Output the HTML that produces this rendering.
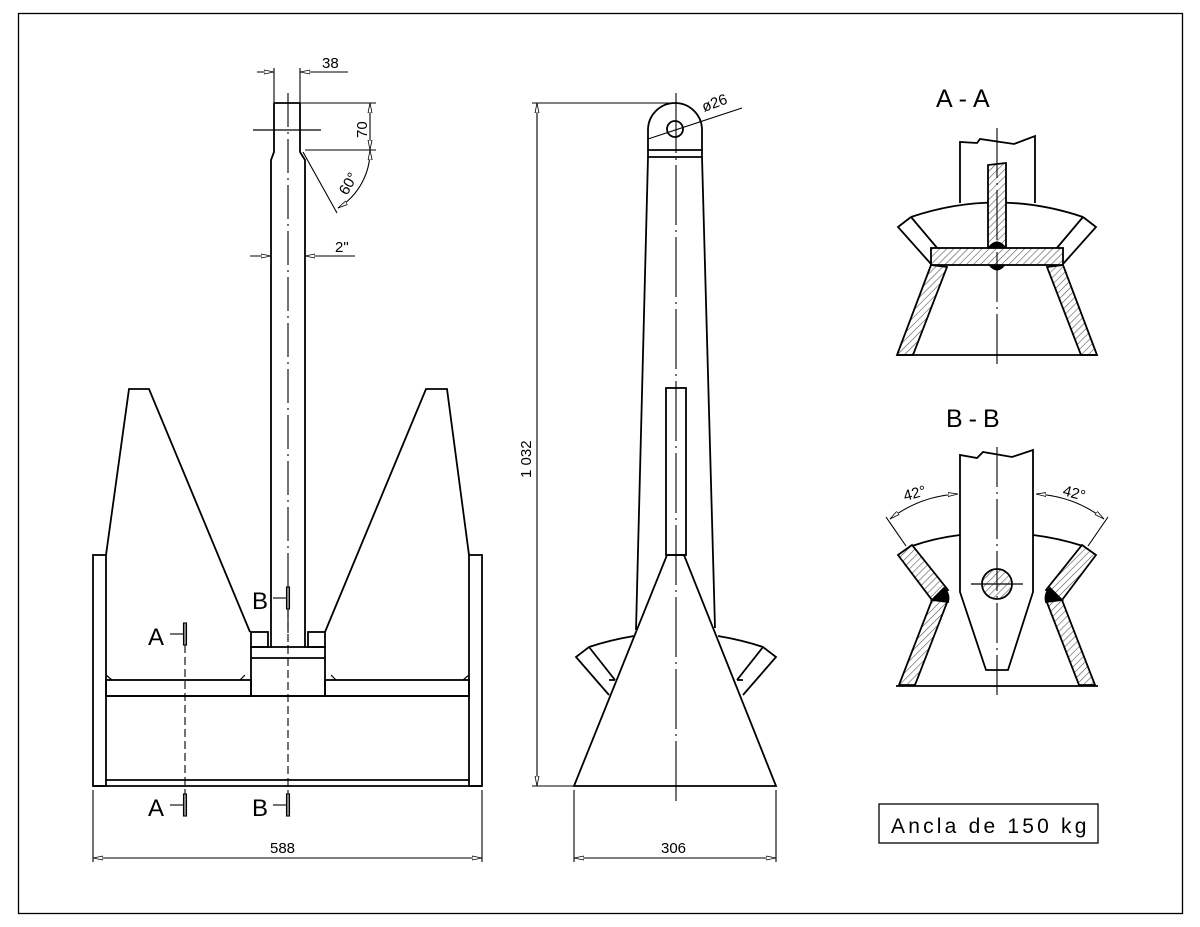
<!DOCTYPE html>
<html><head><meta charset="utf-8"><style>
html,body{margin:0;padding:0;background:#fff;}
svg{display:block;}
text{font-family:"Liberation Sans",sans-serif;fill:#000;}
</style></head><body>
<svg width="1200" height="927" viewBox="0 0 1200 927" xmlns="http://www.w3.org/2000/svg">
<defs>
<pattern id="h" patternUnits="userSpaceOnUse" width="5" height="5" patternTransform="rotate(45)">
<rect width="5" height="5" fill="#fff"/><line x1="0" y1="0" x2="0" y2="5" stroke="#555" stroke-width="1.2"/>
</pattern>
<marker id="ar" markerWidth="10" markerHeight="6" refX="10" refY="3" orient="auto-start-reverse" markerUnits="userSpaceOnUse"><path d="M0,1 L10,3 L0,5 Z" fill="#fff" stroke="#000" stroke-width="0.8"/></marker>
</defs>
<rect x="18.5" y="13.5" width="1164" height="900" fill="none" stroke="#000" stroke-width="1.3"/>
<g fill="none" stroke="#000" stroke-width="1.8" stroke-linejoin="miter">
<!-- LEFT VIEW -->
<path d="M274,103 L274,152 L271,160 L271,648 M300,103 L300,152 L305,160 L305,648 M274,103 L300,103"/>
<line x1="253" y1="130" x2="321" y2="130" stroke-width="1.2"/>
<path d="M106,555 L129,389 L149,389 L250,632"/>
<path d="M469,555 L447,389 L426,389 L325,632"/>
<rect x="251" y="632" width="17" height="15"/>
<rect x="308" y="632" width="17" height="15"/>
<rect x="251" y="647" width="74" height="49"/>
<line x1="251" y1="658" x2="325" y2="658"/>
<rect x="106" y="680" width="145" height="16"/>
<rect x="325" y="680" width="144" height="16"/>
<line x1="106" y1="696" x2="469" y2="696"/>
<line x1="106" y1="780" x2="469" y2="780"/>
<rect x="93" y="555" width="13" height="231"/>
<rect x="469" y="555" width="13" height="231"/>
<line x1="93" y1="786" x2="482" y2="786"/>
<path d="M106,675 L112,680 M245,675 L240,680 M331,675 L336,680 M469,675 L463,680" stroke-width="1.2"/>
<line x1="288" y1="93" x2="288" y2="648" stroke-width="1.1" stroke-dasharray="34,5,2,5"/>
<line x1="185" y1="645" x2="185" y2="796" stroke-width="1.1" stroke-dasharray="8,4"/>
<line x1="288" y1="610" x2="288" y2="796" stroke-width="1.1" stroke-dasharray="8,4"/>
<g stroke-width="1.1">
<line x1="274" y1="68" x2="274" y2="103"/><line x1="300" y1="68" x2="300" y2="103"/>
<line x1="257" y1="72" x2="274" y2="72" marker-end="url(#ar)"/><line x1="348" y1="72" x2="300" y2="72" marker-end="url(#ar)"/>
<line x1="300" y1="103" x2="376" y2="103"/><line x1="305" y1="150" x2="376" y2="150"/>
<line x1="370" y1="127" x2="370" y2="103" marker-end="url(#ar)"/><line x1="370" y1="127" x2="370" y2="150" marker-end="url(#ar)"/>
<line x1="303" y1="152" x2="337" y2="213"/>
<path d="M370,150 A67,67 0 0 1 338,208" marker-start="url(#ar)" marker-end="url(#ar)"/>
<line x1="250" y1="256" x2="271" y2="256" marker-end="url(#ar)"/><line x1="355" y1="256" x2="305" y2="256" marker-end="url(#ar)"/>
<line x1="93" y1="790" x2="93" y2="862"/><line x1="482" y1="790" x2="482" y2="862"/>
<line x1="288" y1="858" x2="93" y2="858" marker-end="url(#ar)"/><line x1="288" y1="858" x2="482" y2="858" marker-end="url(#ar)"/>
</g>
<g stroke-width="1.1">
<rect x="183.5" y="623" width="3" height="22" fill="#888"/><line x1="170" y1="634" x2="183" y2="634"/>
<rect x="183.5" y="794" width="3" height="22" fill="#888"/><line x1="170" y1="805" x2="183" y2="805"/>
<rect x="286.5" y="587" width="3" height="22" fill="#888"/><line x1="273" y1="598" x2="286" y2="598"/>
<rect x="286.5" y="794" width="3" height="22" fill="#888"/><line x1="273" y1="805" x2="286" y2="805"/>
</g>

<!-- MIDDLE VIEW -->
<path d="M648,157 L648,130 A27,27 0 0 1 702,130 L702,157"/>
<circle cx="675" cy="129" r="8"/>
<line x1="648" y1="150" x2="702" y2="150"/><line x1="648" y1="157" x2="702" y2="157"/>
<path d="M648,157 L636,630 M702,157 L715,628"/>
<rect x="666" y="388" width="20" height="167"/>
<path d="M667,555 L684,555 L776,786 L574,786 Z"/>
<path d="M634,636 Q610,640 589,647 L576,657 L609,695 M589,647 L615,680 M609,680 L615,680"/>
<path d="M718,636 Q742,640 763,647 L776,657 L743,695 M763,647 L737,680 M743,680 L737,680"/>
<line x1="676" y1="93" x2="676" y2="805" stroke-width="1.1" stroke-dasharray="60,5,2,5"/>
<g stroke-width="1.1">
<line x1="532" y1="103" x2="675" y2="103"/><line x1="532" y1="786" x2="576" y2="786"/>
<line x1="537" y1="445" x2="537" y2="103" marker-end="url(#ar)"/><line x1="537" y1="445" x2="537" y2="786" marker-end="url(#ar)"/>
<line x1="648" y1="139" x2="742" y2="108"/>
<line x1="574" y1="790" x2="574" y2="862"/><line x1="776" y1="790" x2="776" y2="862"/>
<line x1="675" y1="858" x2="574" y2="858" marker-end="url(#ar)"/><line x1="675" y1="858" x2="776" y2="858" marker-end="url(#ar)"/>
</g>

<!-- SECTION A-A -->
<path d="M960,203 L960,142 L977,143 L980,139 L1014,144 L1035,136 L1035,203"/>
<path d="M911,217 Q997,188 1083,217"/>
<path d="M911,217 L898,227 L931,264 M911,217 L938,249"/>
<path d="M1083,217 L1096,227 L1063,264 M1083,217 L1056,249"/>
<path d="M931,265 L947,267 L913,355 L897,355 Z" fill="url(#h)"/>
<path d="M1063,265 L1047,267 L1081,355 L1097,355 Z" fill="url(#h)"/>
<path d="M988,248 L988,165 L1006,163 L1006,248" fill="url(#h)"/>
<rect x="931" y="248" width="132" height="17" fill="url(#h)"/>
<path d="M988,248 Q997,236 1006,248" fill="#000" stroke-width="1"/>
<path d="M989,265 Q997,275 1005,265" fill="#000" stroke-width="1"/>
<line x1="897" y1="355" x2="1097" y2="355"/>
<line x1="997" y1="128" x2="997" y2="368" stroke-width="1.1" stroke-dasharray="50,5,2,5"/>

<!-- SECTION B-B -->
<path d="M960,592 L960,455 L977,458 L983,452 L1012,457 L1033,450 L1033,592 L1008,670 L986,670 Z"/>
<circle cx="997" cy="584" r="15" fill="url(#h)"/>
<line x1="971" y1="584" x2="1023" y2="584" stroke-width="1.2"/>
<path d="M912,546 Q935,538 960,535 M1033,535 Q1058,538 1083,546"/>
<path d="M898,555 L912,545 L948,590 L932,600 Z" fill="url(#h)"/>
<path d="M932,600 L948,600 L915,685 L899,685 Z" fill="url(#h)"/>
<path d="M932,600 L944,588 Q950,594 948,602 Z" fill="#000"/>
<path d="M1096,555 L1082,545 L1046,590 L1062,600 Z" fill="url(#h)"/>
<path d="M1062,600 L1046,600 L1079,685 L1095,685 Z" fill="url(#h)"/>
<path d="M1062,600 L1050,588 Q1044,594 1046,602 Z" fill="#000"/>
<line x1="896" y1="686" x2="1098" y2="686"/>
<line x1="997" y1="447" x2="997" y2="698" stroke-width="1.1" stroke-dasharray="40,5,2,5"/>
<g stroke-width="1.1">
<line x1="886" y1="517" x2="906" y2="546"/><line x1="1108" y1="517" x2="1088" y2="546"/>
<path d="M890,519 Q920,496 958,494" marker-start="url(#ar)" marker-end="url(#ar)"/>
<path d="M1104,519 Q1074,496 1036,494" marker-start="url(#ar)" marker-end="url(#ar)"/>
</g>
<rect x="879" y="804" width="219" height="39" stroke-width="1.3"/>
</g>

<!-- TEXT -->
<g font-size="15">
<text x="322" y="68">38</text>
<text x="367" y="138" transform="rotate(-90 367 138)">70</text>
<text x="347" y="196" transform="rotate(-60 347 196)">60°</text>
<text x="335" y="252">2"</text>
<text x="270" y="853">588</text>
<text x="661" y="853">306</text>
<text x="531" y="478" transform="rotate(-90 531 478)">1 032</text>
<text x="704" y="112" transform="rotate(-20 704 112)">ø26</text>
<text x="905" y="501" transform="rotate(-15 905 501)">42°</text>
<text x="1062" y="495" transform="rotate(15 1062 495)">42°</text>
</g>
<g font-size="24">
<text x="148" y="645">A</text>
<text x="148" y="816">A</text>
<text x="252" y="609">B</text>
<text x="252" y="816">B</text>
<text x="936" y="107" font-size="25" letter-spacing="6">A-A</text>
<text x="946" y="427" font-size="25" letter-spacing="6">B-B</text>
</g>
<text x="891" y="833" font-size="21" letter-spacing="3.2">Ancla de 150 kg</text>
</svg>
</body></html>
